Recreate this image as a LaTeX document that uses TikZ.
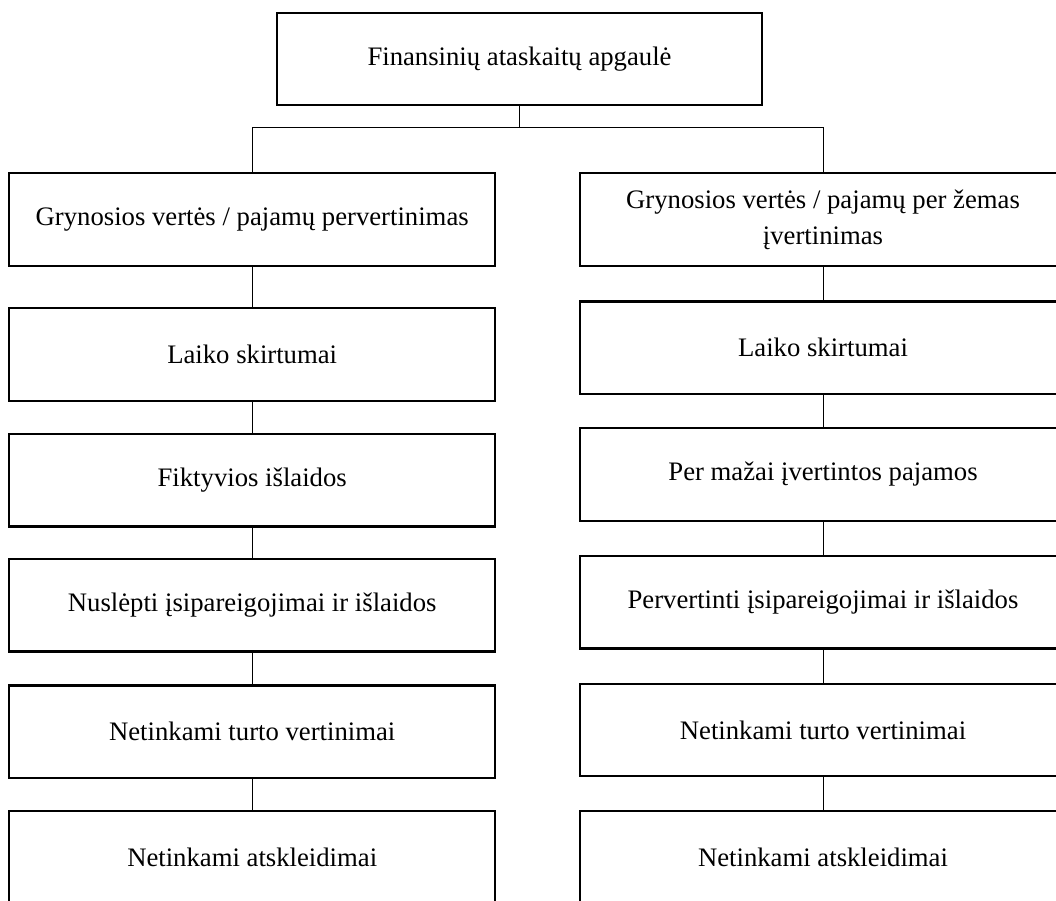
\documentclass[tikz,border=0pt]{standalone}
\usepackage{fontspec}
\setmainfont{Liberation Serif}
\begin{document}
\begin{tikzpicture}[x=1pt,y=-1pt,
  box/.style={draw, line width=2.2pt, minimum width=486pt, minimum height=92.5pt,
    inner sep=0pt, align=center, font=\fontsize{26.7}{36}\selectfont},
  conn/.style={draw, line width=0.9pt}]
\clip (0,0) rectangle (1056,900);
\useasboundingbox (0,0) rectangle (1056,900);
\node[box, minimum width=485pt, minimum height=92.3pt] (top) at (519.5,58.9) {Finansinių ataskaitų apgaulė};
% left column
\node[box] (L1) at (252.2,219.5) {Grynosios vertės / pajamų pervertinimas};
\node[box] (L2) at (252.2,354.5) {Laiko skirtumai};
\node[box] (L3) at (252.2,480.3) {Fiktyvios išlaidos};
\node[box] (L4) at (252.2,605.3) {Nuslėpti įsipareigojimai ir išlaidos};
\node[box] (L5) at (252.2,731.8) {Netinkami turto vertinimai};
\node[box] (L6) at (252.2,857.0) {Netinkami atskleidimai};
% right column
\node[box] (R1) at (823,219.5) {Grynosios vertės / pajamų per žemas\\įvertinimas};
\node[box] (R2) at (823,347.7) {Laiko skirtumai};
\node[box] (R3) at (823,474.5) {Per mažai įvertintos pajamos};
\node[box] (R4) at (823,602.2) {Pervertinti įsipareigojimai ir išlaidos};
\node[box] (R5) at (823,729.9) {Netinkami turto vertinimai};
\node[box] (R6) at (823,857.0) {Netinkami atskleidimai};
% connectors
\coordinate (branch) at (519.5,127.5);
\draw[conn] (top.south) -- (branch);
\draw[conn] (branch) -| (L1.north);
\draw[conn] (branch) -| (R1.north);
\draw[conn] (L1) -- (L2);
\draw[conn] (L2) -- (L3);
\draw[conn] (L3) -- (L4);
\draw[conn] (L4) -- (L5);
\draw[conn] (L5) -- (L6);
\draw[conn] (R1) -- (R2);
\draw[conn] (R2) -- (R3);
\draw[conn] (R3) -- (R4);
\draw[conn] (R4) -- (R5);
\draw[conn] (R5) -- (R6);
\end{tikzpicture}
\end{document}
